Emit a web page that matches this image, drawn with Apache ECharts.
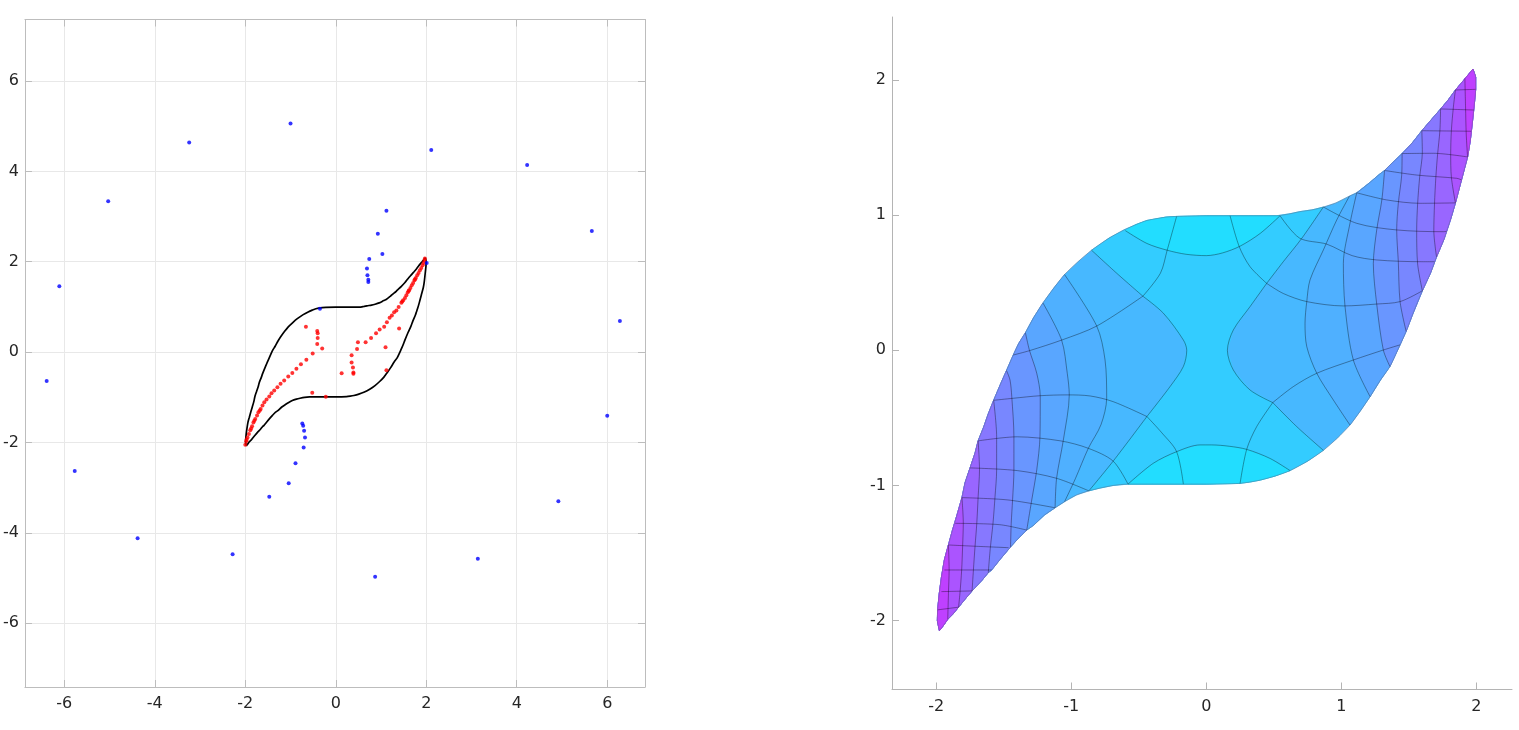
<!DOCTYPE html>
<html><head><meta charset="utf-8">
<script src="https://cdn.jsdelivr.net/npm/echarts@6/dist/echarts.min.js"></script>
<style>html,body{margin:0;padding:0;background:#fff}#c{width:1519px;height:730px}</style>
</head><body><div id="c"></div>
<script>
// ---------- axis ranges ----------
const leftXRange = [-6.87, 6.835];
const leftYRange = [-7.41, 7.36];
const leftStep = 2;
const rightXRange = [-2.328, 2.264];
const rightYRange = [-2.509, 2.465];
const rightStep = 1;

// ---------- region boundary (upper and lower branches, tip to tip) ----------
const upperCurve = [[-1.977,-2.074],[-1.992,-2.0],[-1.99,-1.92],[-1.978,-1.80],[-1.962,-1.68],[-1.94,-1.55],[-1.91,-1.44],[-1.88,-1.33],[-1.85,-1.23],[-1.81,-1.09],[-1.787,-0.98],[-1.75,-0.87],[-1.713,-0.76],[-1.69,-0.67],[-1.65,-0.57],[-1.615,-0.47],[-1.575,-0.37],[-1.52,-0.24],[-1.48,-0.15],[-1.43,-0.035],[-1.39,0.05],[-1.34,0.13],[-1.28,0.24],[-1.21,0.35],[-1.13,0.46],[-1.05,0.56],[-0.95,0.655],[-0.85,0.74],[-0.72,0.83],[-0.61,0.89],[-0.52,0.93],[-0.44,0.96],[-0.30,0.985],[-0.22,0.99],[0.0,0.995],[0.25,0.995],[0.52,0.995],[0.62,1.01],[0.69,1.025],[0.79,1.04],[0.87,1.06],[0.96,1.09],[1.06,1.14],[1.114,1.165],[1.21,1.24],[1.28,1.30],[1.32,1.33],[1.36,1.37],[1.45,1.455],[1.53,1.54],[1.596,1.624],[1.67,1.71],[1.735,1.785],[1.79,1.85],[1.845,1.925],[1.90,1.99],[1.95,2.05],[1.975,2.08]];
const lowerCurve = [[-1.977,-2.074],[-1.95,-2.04],[-1.915,-1.99],[-1.88,-1.955],[-1.835,-1.90],[-1.79,-1.845],[-1.735,-1.78],[-1.66,-1.70],[-1.615,-1.645],[-1.59,-1.625],[-1.53,-1.55],[-1.45,-1.455],[-1.40,-1.40],[-1.33,-1.33],[-1.28,-1.295],[-1.20,-1.22],[-1.12,-1.165],[-1.05,-1.12],[-0.96,-1.07],[-0.87,-1.04],[-0.79,-1.02],[-0.69,-1.0],[-0.58,-0.99],[-0.3,-0.99],[0.0,-0.99],[0.24,-0.985],[0.32,-0.975],[0.40,-0.96],[0.51,-0.93],[0.62,-0.89],[0.75,-0.82],[0.867,-0.74],[0.97,-0.65],[1.064,-0.553],[1.14,-0.45],[1.213,-0.343],[1.29,-0.22],[1.36,-0.12],[1.435,0.04],[1.48,0.14],[1.53,0.27],[1.60,0.44],[1.66,0.57],[1.705,0.69],[1.76,0.82],[1.78,0.88],[1.81,0.97],[1.845,1.09],[1.89,1.26],[1.935,1.43],[1.955,1.55],[1.97,1.68],[1.985,1.82],[1.995,1.93],[1.995,2.02],[1.975,2.08]];

// ---------- left panel points ----------
const redPoints = [[-0.51,-0.03],[-0.65,-0.17],[-0.77,-0.27],[-0.87,-0.37],[-0.96,-0.46],[-1.05,-0.54],[-1.14,-0.63],[-1.22,-0.70],[-1.29,-0.78],[-1.36,-0.85],[-1.42,-0.91],[-1.47,-0.98],[-1.53,-1.05],[-1.58,-1.11],[-1.62,-1.18],[-1.66,-1.26],[-1.71,-1.33],[-1.74,-1.40],[-1.78,-1.48],[-1.82,-1.56],[-1.85,-1.64],[-1.89,-1.73],[-1.92,-1.81],[-1.95,-1.89],[-1.98,-1.97],[-2.0,-2.05],[-1.97,-1.94],[-1.87,-1.69],[-1.80,-1.52],[-1.68,-1.29],
[-0.30,0.08],[-0.41,0.18],[-0.40,0.31],[-0.40,0.42],[-0.41,0.47],[-0.66,0.56],
[0.47,0.07],[0.49,0.22],[0.66,0.22],[0.78,0.31],[0.89,0.42],[0.97,0.50],[1.07,0.56],[1.13,0.66],[1.19,0.76],[1.24,0.81],[1.29,0.88],[1.34,0.92],[1.39,1.0],[1.45,1.09],[1.49,1.15],[1.53,1.20],[1.56,1.26],[1.59,1.32],[1.62,1.37],[1.65,1.42],[1.68,1.48],[1.71,1.53],[1.74,1.59],[1.77,1.64],[1.80,1.70],[1.83,1.75],[1.86,1.81],[1.89,1.86],[1.92,1.92],[1.94,1.97],[1.96,2.03],[1.97,2.07],[1.47,1.12],[1.61,1.35],[1.75,1.61],
[0.35,-0.07],[0.35,-0.23],[0.38,-0.34],[0.39,-0.45],[0.39,-0.48],[0.13,-0.47],[1.12,-0.40],[1.10,0.11],[1.40,0.52],[-0.52,-0.90],[-0.22,-0.99]];
const bluePoints = [[-6.39,-0.64],[-6.11,1.46],[-5.77,-2.63],[-5.03,3.34],[-4.38,-4.12],[-3.24,4.64],[-2.28,-4.47],[-1.47,-3.20],[-1.04,-2.90],[-1.0,5.06],[-0.89,-2.46],[-0.74,-1.58],[-0.72,-1.63],[-0.70,-1.74],[-0.68,-1.89],[-0.71,-2.11],[-0.35,0.96],[0.74,2.06],[0.69,1.85],[0.70,1.70],[0.72,1.60],[0.72,1.55],[0.93,2.62],[1.03,2.17],[1.12,3.13],[2.11,4.47],[2.01,1.97],[0.87,-4.97],[3.14,-4.57],[4.23,4.14],[4.92,-3.30],[5.66,2.68],[6.0,-1.41],[6.28,0.69]];

// ---------- right panel mesh lines ----------
const lineA = [[-0.85,0.74],[-0.664,0.57],[-0.47,0.40]];
const lineB = [[-0.47,0.40],[-0.34,0.57],[-0.29,0.74],[-0.22,0.99]];
const lineC = [[-0.47,0.40],[-0.318,0.274],[-0.17,0.076],[-0.145,0.0],[-0.17,-0.12],[-0.269,-0.269],[-0.44,-0.49]];
const lineD = [[-0.44,-0.49],[-0.69,-0.82],[-0.87,-1.04]];
const lineE = [[-0.44,-0.49],[-0.33,-0.61],[-0.22,-0.75],[-0.17,-0.99]];
const lineF = [[0.447,0.495],[0.324,0.323],[0.2,0.15],[0.156,0.0],[0.2,-0.146],[0.324,-0.294],[0.492,-0.387]];
const lineG = [[0.447,0.495],[0.324,0.618],[0.244,0.766],[0.176,0.995]];
const lineH = [[0.447,0.495],[0.57,0.655],[0.707,0.828],[0.867,1.06]];
const lineI = [[0.492,-0.387],[0.67,-0.565],[0.867,-0.74]];
const lineJ = [[0.492,-0.387],[0.373,-0.565],[0.299,-0.733],[0.25,-0.985]];
const topCapArc = [[-0.60,0.885],[-0.44,0.79],[-0.29,0.74],[-0.15,0.71],[0.0,0.70],[0.12,0.72],[0.25,0.77],[0.40,0.865],[0.546,0.995]];
const botCapArc = [[-0.58,-0.99],[-0.393,-0.836],[-0.22,-0.75],[-0.047,-0.70],[0.04,-0.70],[0.17,-0.71],[0.299,-0.733],[0.472,-0.80],[0.62,-0.89]];

const vLL1 = [[-1.91,-1.44],[-1.905,-1.625],[-1.91,-1.80],[-1.915,-1.99]];
const vLL2 = [[-1.81,-1.09],[-1.80,-1.28],[-1.805,-1.45],[-1.812,-1.625],[-1.825,-1.80],[-1.835,-1.90]];
const vLL3 = [[-1.69,-0.67],[-1.68,-0.885],[-1.69,-1.083],[-1.70,-1.28],[-1.713,-1.45],[-1.725,-1.625],[-1.735,-1.78]];
const vLL4 = [[-1.575,-0.37],[-1.553,-0.639],[-1.553,-0.885],[-1.565,-1.083],[-1.58,-1.28],[-1.60,-1.465],[-1.615,-1.645]];
const vLL5 = [[-1.48,-0.15],[-1.454,-0.22],[-1.441,-0.343],[-1.425,-0.639],[-1.425,-0.885],[-1.435,-1.107],[-1.445,-1.28],[-1.45,-1.455]];
const vLL6 = [[-1.34,0.13],[-1.31,0.0],[-1.256,-0.17],[-1.23,-0.34],[-1.232,-0.639],[-1.256,-0.885],[-1.293,-1.107],[-1.33,-1.33]];
const vLL7 = [[-1.21,0.35],[-1.072,0.076],[-1.03,-0.17],[-1.015,-0.33],[-1.059,-0.664],[-1.109,-0.947],[-1.12,-1.165]];
const vLL8 = [[-1.05,0.56],[-0.812,0.18],[-0.75,-0.072],[-0.738,-0.355],[-0.78,-0.55],[-0.874,-0.725],[-0.97,-0.95],[-1.05,-1.12]];

const vUR0 = [[1.915,2.01],[1.92,1.80],[1.925,1.60],[1.935,1.43]];
const vUR1 = [[1.845,1.925],[1.83,1.80],[1.815,1.625],[1.81,1.45],[1.815,1.28],[1.845,1.09]];
const vUR2 = [[1.735,1.785],[1.73,1.625],[1.713,1.45],[1.70,1.28],[1.69,1.083],[1.685,0.885],[1.705,0.69]];
const vUR3 = [[1.596,1.624],[1.60,1.465],[1.58,1.28],[1.565,1.083],[1.558,0.885],[1.565,0.639],[1.60,0.44]];
const vUR4 = [[1.45,1.455],[1.447,1.296],[1.422,1.087],[1.41,0.89],[1.422,0.655],[1.435,0.36],[1.48,0.14]];
const vUR5 = [[1.32,1.33],[1.30,1.112],[1.262,0.89],[1.237,0.64],[1.262,0.342],[1.311,0.002],[1.36,-0.12]];
const vUR6 = [[1.114,1.165],[1.064,0.939],[1.015,0.643],[1.027,0.328],[1.089,-0.072],[1.213,-0.343]];
const vUR7 = [[1.06,1.14],[0.966,0.964],[0.867,0.742],[0.768,0.52],[0.744,0.36],[0.731,0.2],[0.744,0.027],[0.818,-0.17],[0.941,-0.368],[1.064,-0.553]];

const hLL0 = [[-1.43,-0.035],[-1.31,-0.003],[-1.07,0.076],[-0.81,0.18],[-0.47,0.40]];
const hLL1 = [[-1.575,-0.37],[-1.43,-0.355],[-1.23,-0.336],[-1.03,-0.33],[-0.86,-0.338],[-0.69,-0.38],[-0.44,-0.49]];
const hLL2 = [[-1.69,-0.67],[-1.40,-0.64],[-1.08,-0.67],[-0.874,-0.725],[-0.69,-0.82],[-0.58,-0.99]];
const hLL3 = [[-1.75,-0.87],[-1.40,-0.89],[-1.109,-0.947],[-0.87,-1.04]];
const hLL4 = [[-1.81,-1.09],[-1.47,-1.107],[-1.12,-1.165]];
const hLL5 = [[-1.86,-1.28],[-1.53,-1.29],[-1.33,-1.33]];
const hLL6 = [[-1.91,-1.44],[-1.70,-1.45],[-1.465,-1.46]];
const hLL7 = [[-1.94,-1.625],[-1.59,-1.625]];
const hLL8 = [[-1.962,-1.785],[-1.735,-1.78]];
const hLL9 = [[-1.99,-1.92],[-1.835,-1.90]];

const hUR0 = [[0.492,-0.387],[0.644,-0.269],[0.818,-0.17],[1.089,-0.072],[1.311,0.002],[1.435,0.04]];
const hUR1 = [[0.447,0.495],[0.57,0.42],[0.744,0.36],[1.015,0.328],[1.262,0.342],[1.435,0.36],[1.60,0.44]];
const hUR2 = [[0.546,0.995],[0.69,0.83],[0.892,0.785],[1.08,0.70],[1.262,0.668],[1.596,0.655],[1.69,0.655]];
const hUR3 = [[0.867,1.06],[1.114,0.939],[1.41,0.89],[1.756,0.877],[1.78,0.88]];
const hUR4 = [[1.114,1.165],[1.336,1.112],[1.583,1.087],[1.845,1.09]];
const hUR5 = [[1.32,1.33],[1.558,1.296],[1.855,1.272],[1.89,1.26]];
const hUR6 = [[1.45,1.455],[1.681,1.457],[1.935,1.43]];
const hUR7 = [[1.596,1.624],[1.962,1.62]];
const hUR8 = [[1.735,1.785],[1.983,1.777]];
const hUR9 = [[1.845,1.925],[1.995,1.93]];

// ---------- styles ----------
const baseColor = '#47b8ff';
const centerColor = '#33ccff';
const capColor = '#22ddff';
const lobeColors = ['#4fb0ff','#59a6ff','#6996ff','#7887ff','#8778ff','#9966ff','#ab54ff','#bf40ff'];
const meshColor = 'rgba(0,0,0,0.45)';
const labelFont = {fontFamily:'DejaVu Sans', fontSize:16, color:'#262626'};

// ---------- build polygons (from the arrays above) ----------
const vLL = [vLL8, vLL7, vLL6, vLL5, vLL4, vLL3, vLL2, vLL1];
const vUR = [vUR7, vUR6, vUR5, vUR4, vUR3, vUR2, vUR1, vUR0];
const polys = [];
polys.push({pts: upperCurve.concat(lowerCurve.slice().reverse()), color: baseColor});
{
  const x0 = lineD[lineD.length-1][0], x1 = lineI[lineI.length-1][0];
  const xa = lineA[0][0], xh = lineH[lineH.length-1][0];
  const pts = []
    .concat(lineA, lineC, lineD,
      lowerCurve.filter(p => p[0] > x0 && p[0] < x1 && p[1] < 0),
      lineI.slice().reverse(), lineF.slice().reverse(), lineH,
      upperCurve.filter(p => p[0] > xa && p[0] < xh && p[1] > 0).reverse());
  polys.push({pts, color: centerColor});
}
{
  const a = topCapArc[0][0], b = topCapArc[topCapArc.length-1][0];
  polys.push({pts: topCapArc.concat(upperCurve.filter(p => p[0] > a && p[0] < b && p[1] > 0).reverse()), color: capColor});
  const c = botCapArc[0][0], d = botCapArc[botCapArc.length-1][0];
  polys.push({pts: botCapArc.concat(lowerCurve.filter(p => p[0] > c && p[0] < d && p[1] < 0).reverse()), color: capColor});
}
vLL.forEach((v, i) => {
  const s = v[0], e = v[v.length-1];
  const pts = v.concat(lowerCurve.filter(p => p[0] < e[0] && p[1] < 0).reverse(),
                       upperCurve.filter(p => p[1] < s[1] && p[0] < 0));
  polys.push({pts, color: lobeColors[i]});
});
vUR.forEach((v, i) => {
  const s = v[0], e = v[v.length-1];
  const pts = v.concat(lowerCurve.filter(p => p[1] > e[1] && p[0] > 0),
                       upperCurve.filter(p => p[0] > s[0] && p[1] > 0).reverse());
  polys.push({pts, color: lobeColors[i]});
});

const meshLines = [lineA,lineB,lineC,lineD,lineE,lineF,lineG,lineH,lineI,lineJ,topCapArc,botCapArc,
  vLL1,vLL2,vLL3,vLL4,vLL5,vLL6,vLL7,vLL8,vUR0,vUR1,vUR2,vUR3,vUR4,vUR5,vUR6,vUR7,
  hLL0,hLL1,hLL2,hLL3,hLL4,hLL5,hLL6,hLL7,hLL8,hLL9,hUR0,hUR1,hUR2,hUR3,hUR4,hUR5,hUR6,hUR7,hUR8,hUR9];

const loop = upperCurve.concat(lowerCurve.slice().reverse());

// ---------- axes helpers ----------
function valAxis(gridIndex, range, step, position, showLabel, split, boxColor) {
  return {
    type: 'value', gridIndex, position, min: range[0], max: range[1],
    minInterval: step, maxInterval: step, splitNumber: 7,
    axisLine: {show: true, onZero: false, lineStyle: {color: boxColor, width: 1}},
    axisTick: {show: true, inside: true, length: 7, lineStyle: {color: boxColor}},
    axisLabel: Object.assign({show: showLabel, showMinLabel: false, showMaxLabel: false,
      margin: (position === 'left' ? 6 : 9)}, labelFont),
    splitLine: {show: split, lineStyle: {color: '#e8e8e8', width: 1}}
  };
}

const meshSeries = meshLines.map(l => ({
  type: 'line', xAxisIndex: 2, yAxisIndex: 2, data: l, smooth: 0.3, showSymbol: false, symbol: 'none',
  lineStyle: {color: meshColor, width: 0.8}, z: 4, silent: true
}));
const outlineSeries = [upperCurve, lowerCurve].map(l => ({
  type: 'line', xAxisIndex: 2, yAxisIndex: 2, data: l, smooth: 0.25, showSymbol: false, symbol: 'none',
  lineStyle: {color: 'rgba(90,90,110,0.5)', width: 0.8}, z: 4, silent: true
}));

const chart = echarts.init(document.getElementById('c'), null, {renderer: 'canvas'});
chart.setOption({
  animation: false,
  backgroundColor: '#ffffff',
  grid: [
    {left: 24.5, top: 19.5, width: 620.5, height: 667.5},
    {left: 892, top: 17, width: 620, height: 672.5}
  ],
  xAxis: [
    valAxis(0, leftXRange, leftStep, 'bottom', true, true, '#bdbdbd'),
    valAxis(0, leftXRange, leftStep, 'top', false, false, '#bdbdbd'),
    valAxis(1, rightXRange, rightStep, 'bottom', true, false, '#b4b4b4')
  ],
  yAxis: [
    valAxis(0, leftYRange, leftStep, 'left', true, true, '#bdbdbd'),
    valAxis(0, leftYRange, leftStep, 'right', false, false, '#bdbdbd'),
    valAxis(1, rightYRange, rightStep, 'left', true, false, '#b4b4b4')
  ],
  series: [
    {type: 'line', xAxisIndex: 0, yAxisIndex: 0, data: loop, smooth: 0.25, showSymbol: false, symbol: 'none',
     lineStyle: {color: '#000', width: 1.7}, z: 2, silent: true},
    {type: 'scatter', xAxisIndex: 0, yAxisIndex: 0, data: redPoints, symbolSize: 4,
     itemStyle: {color: '#ff0000'}, z: 3},
    {type: 'scatter', xAxisIndex: 0, yAxisIndex: 0, data: bluePoints, symbolSize: 4,
     itemStyle: {color: '#0000ff'}, z: 3},
    {type: 'custom', xAxisIndex: 2, yAxisIndex: 2, coordinateSystem: 'cartesian2d',
     data: polys.map(() => [0, 0]),
     renderItem: function (params, api) {
       const p = polys[params.dataIndex];
       return {type: 'polygon', shape: {points: p.pts.map(q => api.coord(q))},
               style: {fill: p.color, stroke: p.color, lineWidth: 0.6}};
     }, z: 2, silent: true}
  ].concat(meshSeries, outlineSeries)
});
</script>
</body></html>
